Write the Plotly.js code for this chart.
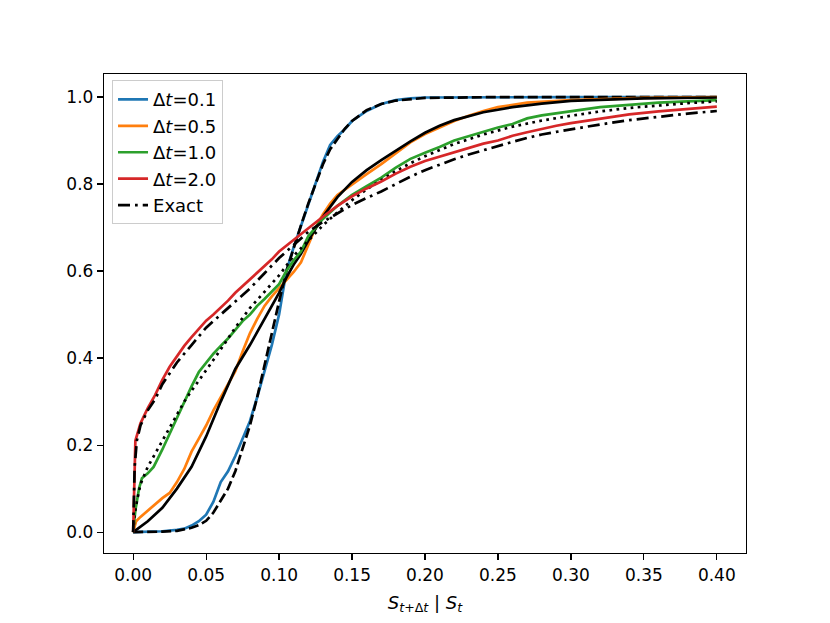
<!DOCTYPE html>
<html>
<head>
<meta charset="utf-8">
<script src="https://cdn.plot.ly/plotly-3.0.1.min.js"></script>
<style>
  html, body { margin: 0; padding: 0; background: #fff; }
  #chart { width: 830px; height: 623px; }
</style>
</head>
<body>
<div id="chart"></div>
<script>
// Simulated CDFs of S_{t+dt} | S_t against the exact ones, for four step sizes.

const xSample01 = [0, 0.01, 0.02, 0.03, 0.035, 0.04, 0.045, 0.05, 0.055, 0.06, 0.065, 0.07, 0.075, 0.08, 0.085, 0.09, 0.095, 0.1, 0.103, 0.105, 0.11, 0.115, 0.12, 0.125, 0.13, 0.135, 0.14, 0.145, 0.15, 0.16, 0.17, 0.18, 0.19, 0.2, 0.25, 0.3, 0.35, 0.4];
const ySample01 = [0, 0.001, 0.002, 0.005, 0.008, 0.015, 0.025, 0.04, 0.07, 0.115, 0.14, 0.175, 0.215, 0.255, 0.31, 0.37, 0.43, 0.50, 0.556, 0.60, 0.655, 0.705, 0.755, 0.80, 0.85, 0.89, 0.91, 0.926, 0.945, 0.968, 0.984, 0.993, 0.997, 0.999, 1.0, 1.0, 1.0, 1.0];

const xExact01 = [0, 0.01, 0.02, 0.03, 0.04, 0.045, 0.05, 0.055, 0.06, 0.065, 0.07, 0.075, 0.08, 0.085, 0.09, 0.095, 0.1, 0.105, 0.11, 0.115, 0.12, 0.125, 0.13, 0.135, 0.14, 0.145, 0.15, 0.16, 0.17, 0.18, 0.2, 0.25, 0.3, 0.4];
const yExact01 = [0, 0.0, 0.001, 0.003, 0.01, 0.016, 0.026, 0.045, 0.072, 0.10, 0.14, 0.19, 0.245, 0.31, 0.385, 0.46, 0.53, 0.60, 0.655, 0.705, 0.755, 0.80, 0.845, 0.88, 0.905, 0.927, 0.945, 0.97, 0.984, 0.992, 0.998, 1.0, 1.0, 1.0];

const xSample05 = [0, 0.002, 0.005, 0.01, 0.02, 0.025, 0.03, 0.035, 0.04, 0.045, 0.05, 0.055, 0.06, 0.065, 0.07, 0.075, 0.08, 0.085, 0.09, 0.095, 0.1, 0.105, 0.11, 0.115, 0.12, 0.125, 0.13, 0.135, 0.14, 0.15, 0.16, 0.17, 0.18, 0.19, 0.2, 0.21, 0.22, 0.23, 0.24, 0.25, 0.27, 0.3, 0.35, 0.4];
const ySample05 = [0, 0.025, 0.035, 0.05, 0.078, 0.09, 0.115, 0.145, 0.185, 0.215, 0.245, 0.28, 0.31, 0.34, 0.37, 0.415, 0.457, 0.49, 0.52, 0.542, 0.56, 0.58, 0.598, 0.62, 0.66, 0.70, 0.73, 0.755, 0.775, 0.80, 0.823, 0.846, 0.872, 0.896, 0.915, 0.93, 0.945, 0.957, 0.968, 0.977, 0.987, 0.993, 0.998, 1.0];

const xExact05 = [0, 0.005, 0.01, 0.02, 0.03, 0.04, 0.05, 0.06, 0.07, 0.08, 0.085, 0.09, 0.095, 0.1, 0.105, 0.11, 0.115, 0.12, 0.13, 0.14, 0.15, 0.16, 0.17, 0.18, 0.19, 0.2, 0.21, 0.22, 0.24, 0.26, 0.28, 0.3, 0.35, 0.4];
const yExact05 = [0, 0.012, 0.025, 0.056, 0.10, 0.15, 0.22, 0.30, 0.375, 0.43, 0.46, 0.49, 0.52, 0.55, 0.585, 0.615, 0.64, 0.67, 0.725, 0.77, 0.805, 0.832, 0.855, 0.877, 0.898, 0.918, 0.934, 0.947, 0.965, 0.977, 0.985, 0.991, 0.997, 0.999];

const xSample10 = [0, 0.0015, 0.004, 0.006, 0.01, 0.014, 0.02, 0.025, 0.03, 0.035, 0.04, 0.045, 0.05, 0.055, 0.06, 0.065, 0.07, 0.075, 0.08, 0.085, 0.09, 0.095, 0.1, 0.105, 0.11, 0.115, 0.12, 0.125, 0.13, 0.14, 0.15, 0.16, 0.17, 0.18, 0.19, 0.2, 0.21, 0.22, 0.23, 0.24, 0.25, 0.26, 0.265, 0.27, 0.28, 0.3, 0.32, 0.34, 0.36, 0.38, 0.4];
const ySample10 = [0, 0.05, 0.10, 0.124, 0.135, 0.15, 0.19, 0.227, 0.265, 0.30, 0.335, 0.368, 0.39, 0.41, 0.428, 0.445, 0.465, 0.485, 0.50, 0.52, 0.536, 0.552, 0.57, 0.60, 0.625, 0.645, 0.68, 0.70, 0.72, 0.75, 0.775, 0.795, 0.815, 0.838, 0.858, 0.872, 0.885, 0.90, 0.91, 0.92, 0.93, 0.938, 0.944, 0.951, 0.958, 0.968, 0.977, 0.982, 0.987, 0.99, 0.993];

const xExact10 = [0, 0.001, 0.0025, 0.005, 0.01, 0.015, 0.02, 0.025, 0.03, 0.035, 0.04, 0.045, 0.05, 0.06, 0.07, 0.08, 0.09, 0.1, 0.11, 0.12, 0.13, 0.14, 0.15, 0.16, 0.17, 0.18, 0.19, 0.2, 0.22, 0.24, 0.26, 0.28, 0.3, 0.32, 0.34, 0.36, 0.38, 0.4];
const yExact10 = [0, 0.04, 0.07, 0.11, 0.15, 0.18, 0.21, 0.24, 0.27, 0.30, 0.325, 0.35, 0.372, 0.42, 0.47, 0.515, 0.553, 0.59, 0.635, 0.67, 0.705, 0.735, 0.763, 0.788, 0.81, 0.83, 0.848, 0.864, 0.892, 0.914, 0.932, 0.946, 0.957, 0.967, 0.975, 0.981, 0.986, 0.99];

const xSample20 = [0, 0.001, 0.0015, 0.005, 0.01, 0.015, 0.02, 0.025, 0.03, 0.035, 0.04, 0.045, 0.05, 0.055, 0.06, 0.065, 0.07, 0.075, 0.08, 0.085, 0.09, 0.095, 0.1, 0.11, 0.12, 0.13, 0.14, 0.15, 0.16, 0.17, 0.18, 0.19, 0.2, 0.21, 0.22, 0.23, 0.24, 0.25, 0.26, 0.27, 0.28, 0.29, 0.3, 0.32, 0.34, 0.36, 0.38, 0.4];
const ySample20 = [0, 0.18, 0.21, 0.25, 0.285, 0.315, 0.35, 0.38, 0.405, 0.428, 0.448, 0.468, 0.486, 0.50, 0.515, 0.532, 0.55, 0.565, 0.58, 0.595, 0.61, 0.627, 0.645, 0.672, 0.70, 0.725, 0.75, 0.772, 0.79, 0.806, 0.824, 0.84, 0.853, 0.863, 0.874, 0.884, 0.893, 0.90, 0.911, 0.919, 0.927, 0.934, 0.94, 0.95, 0.96, 0.967, 0.973, 0.978];

const xExact20 = [0, 0.001, 0.0025, 0.005, 0.01, 0.015, 0.02, 0.025, 0.03, 0.04, 0.05, 0.06, 0.07, 0.08, 0.09, 0.1, 0.11, 0.12, 0.13, 0.14, 0.15, 0.16, 0.17, 0.18, 0.19, 0.2, 0.21, 0.22, 0.23, 0.24, 0.25, 0.26, 0.27, 0.28, 0.29, 0.3, 0.32, 0.34, 0.36, 0.38, 0.4];
const yExact20 = [0, 0.15, 0.21, 0.245, 0.28, 0.305, 0.34, 0.365, 0.39, 0.43, 0.47, 0.50, 0.53, 0.56, 0.595, 0.63, 0.66, 0.69, 0.713, 0.733, 0.752, 0.768, 0.783, 0.80, 0.817, 0.832, 0.845, 0.857, 0.868, 0.878, 0.888, 0.897, 0.906, 0.914, 0.92, 0.926, 0.937, 0.947, 0.955, 0.962, 0.968];

const xTicks = [0, 0.05, 0.1, 0.15, 0.2, 0.25, 0.3, 0.35, 0.4];
const yTicks = [0, 0.2, 0.4, 0.6, 0.8, 1.0];

const FONT = "DejaVu Sans, Liberation Sans, sans-serif";

function sampleTrace(x, y, name, color) {
  return { x, y, name, type: "scatter", mode: "lines", line: { color, width: 2.7 } };
}

function exactTrace(x, y, dash, show) {
  return {
    x, y, name: "Exact", type: "scatter", mode: "lines",
    line: { color: "#000000", width: 2.7, dash },
    showlegend: show,
  };
}

const traces = [
  sampleTrace(xSample01, ySample01, "Δ<i>t</i>=0.1", "#1f77b4"),
  exactTrace(xExact01, yExact01, "10px,4px", false),
  sampleTrace(xSample05, ySample05, "Δ<i>t</i>=0.5", "#ff7f0e"),
  exactTrace(xExact05, yExact05, "solid", false),
  sampleTrace(xSample10, ySample10, "Δ<i>t</i>=1.0", "#2ca02c"),
  exactTrace(xExact10, yExact10, "2.7px,4.4px", false),
  sampleTrace(xSample20, ySample20, "Δ<i>t</i>=2.0", "#d62728"),
  exactTrace(xExact20, yExact20, "12px,5px,2.7px,5px", true),
];

const axisCommon = {
  showgrid: false,
  zeroline: false,
  showline: true,
  mirror: true,
  linecolor: "#000",
  linewidth: 1.2,
  ticks: "outside",
  ticklen: 6,
  tickwidth: 1.2,
  tickcolor: "#000",
  tickfont: { family: FONT, size: 17, color: "#000" },
};

const layout = {
  width: 830,
  height: 623,
  paper_bgcolor: "#fff",
  plot_bgcolor: "#fff",
  margin: { l: 104, r: 84, t: 74, b: 70 },
  font: { family: FONT, size: 17, color: "#000" },
  xaxis: {
    ...axisCommon,
    range: [-0.02, 0.42],
    tickvals: xTicks,
    tickformat: ".2f",
    title: {
      text: "<i>S</i><sub><i>t</i>+Δ<i>t</i></sub> | <i>S</i><sub><i>t</i></sub>",
      font: { family: FONT, size: 18 },
      standoff: 12,
    },
  },
  yaxis: {
    ...axisCommon,
    range: [-0.048, 1.053],
    tickvals: yTicks,
    tickformat: ".1f",
  },
  legend: {
    x: 0.0125,
    y: 0.987,
    xanchor: "left",
    yanchor: "top",
    bgcolor: "rgba(255,255,255,0.8)",
    bordercolor: "#cccccc",
    borderwidth: 1,
    font: { family: FONT, size: 18 },
  },
  showlegend: true,
};

Plotly.newPlot("chart", traces, layout, { displayModeBar: false, staticPlot: true });
</script>
</body>
</html>
